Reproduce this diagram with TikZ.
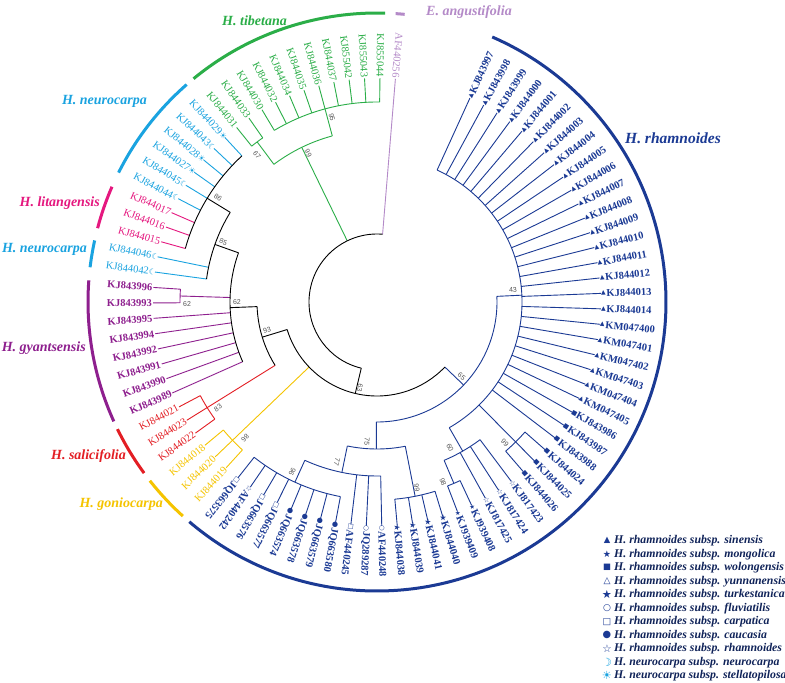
\documentclass[tikz,border=0pt]{standalone}
\usepackage{fontspec}
\setmainfont{Liberation Serif}
\setsansfont{Liberation Sans}
\newfontfamily\symfont{DejaVu Sans}
\usetikzlibrary{positioning}
\definecolor{cRham}{HTML}{1B3A94}
\definecolor{cTib}{HTML}{2BAE48}
\definecolor{cAng}{HTML}{B48AC8}
\definecolor{cNeu}{HTML}{1AA3E0}
\definecolor{cLit}{HTML}{E5187F}
\definecolor{cGya}{HTML}{8E1F8E}
\definecolor{cSal}{HTML}{E31E24}
\definecolor{cGon}{HTML}{F5C400}
\definecolor{cBoot}{HTML}{555555}
\newcommand{\leaffont}{\fontsize{10.5}{12}\selectfont}
% tip symbols
\newcommand{\mkTri}{\symfont\fontsize{6}{5}\selectfont ▲}
\newcommand{\mkStarS}{\symfont\fontsize{6.5}{5}\selectfont ★}
\newcommand{\mkSq}{\symfont\fontsize{6}{5}\selectfont ■}
\newcommand{\mkOTri}{\symfont\fontsize{6.5}{5}\selectfont △}
\newcommand{\mkStar}{\symfont\fontsize{8}{5}\selectfont ★}
\newcommand{\mkOCirc}{\symfont\fontsize{6.5}{5}\selectfont ○}
\newcommand{\mkOSq}{\symfont\fontsize{6.5}{5}\selectfont □}
\newcommand{\mkCirc}{\symfont\fontsize{7}{5}\selectfont ●}
\newcommand{\mkOStar}{\symfont\fontsize{7.5}{5}\selectfont ☆}
\newcommand{\mkMoon}{\symfont\fontsize{8}{5}\selectfont ☽}
\newcommand{\mkSun}{\symfont\fontsize{8}{5}\selectfont ☀}
\tikzset{
  treeline/.style={line width=0.9pt},
  grouparc/.style={line width=3pt},
  tipmark/.style={inner sep=0pt},
  bootlbl/.style={font=\sffamily\fontsize{7}{7}\selectfont,text=cBoot,inner sep=0pt},
  grouplbl/.style={font=\fontsize{14}{16}\selectfont\bfseries\itshape,inner sep=0pt},
  legtxt/.style={font=\fontsize{11.8}{12}\selectfont\bfseries\itshape,text=cRham!60!black,inner sep=0pt,anchor=west},
  olbl/.style={rotate=#1,anchor=west},
  ilbl/.style={rotate=#1+180,anchor=east},
  rham/.style={color=cRham}, rham-lbl/.style={olbl=#1,font=\leaffont\bfseries},
  gon/.style={color=cGon},   gon-lbl/.style={ilbl=#1,font=\leaffont},
  sal/.style={color=cSal},   sal-lbl/.style={ilbl=#1,font=\leaffont},
  gya/.style={color=cGya},   gya-lbl/.style={ilbl=#1,font=\leaffont\bfseries},
  neu/.style={color=cNeu},   neu-lbl/.style={ilbl=#1,font=\leaffont},
  lit/.style={color=cLit},   lit-lbl/.style={ilbl=#1,font=\leaffont},
  tib/.style={color=cTib},   tib-lbl/.style={ilbl=#1,font=\leaffont},
  ang/.style={color=cAng},   ang-lbl/.style={ilbl=#1,font=\leaffont},
  blk/.style={color=black}
}

\begin{document}
\begin{tikzpicture}[x=1pt,y=1pt]
  \path[fill=white] (-377,-381) rectangle (408,302);
  \useasboundingbox (-377,-381) rectangle (408,302);

  % leaves: index/label/group/symbol/node radius/label radius
  \foreach \i/\lab/\grp/\mk/\rn/\rl in {
      1/KJ843997/rham/\mkTri/145/229.5, 2/KJ843998/rham/\mkTri/145/229.5,
      3/KJ843999/rham/\mkTri/145/229.5, 4/KJ844000/rham/\mkTri/145/229.5,
      5/KJ844001/rham/\mkTri/145/229.5, 6/KJ844002/rham/\mkTri/145/229.5,
      7/KJ844003/rham/\mkTri/145/229.5, 8/KJ844004/rham/\mkTri/145/229.5,
      9/KJ844005/rham/\mkTri/145/229.5, 10/KJ844006/rham/\mkTri/145/229.5,
      11/KJ844007/rham/\mkTri/145/229.5, 12/KJ844008/rham/\mkTri/145/229.5,
      13/KJ844009/rham/\mkTri/145/229.5, 14/KJ844010/rham/\mkTri/145/229.5,
      15/KJ844011/rham/\mkTri/145/229.5, 16/KJ844012/rham/\mkTri/145/229.5,
      17/KJ844013/rham/\mkTri/145/229.5, 18/KJ844014/rham/\mkTri/145/229.5,
      19/KM047400/rham/\mkTri/145/229.5, 20/KM047401/rham/\mkTri/145/229.5,
      21/KM047402/rham/\mkTri/145/229.5, 22/KM047403/rham/\mkTri/145/229.5,
      23/KM047404/rham/\mkTri/145/229.5, 24/KM047405/rham/\mkTri/145/229.5,
      25/KJ843986/rham/\mkSq/145/229.5, 26/KJ843987/rham/\mkSq/145/229.5,
      27/KJ843988/rham/\mkSq/145/229.5, 28/KJ844024/rham/\mkSq/197/229.5,
      29/KJ844025/rham/\mkSq/197/229.5, 30/KJ844026/rham/\mkSq/197/229.5,
      31/KJ817423/rham/\mkOStar/172/229.5, 32/KJ817424/rham/\mkOStar/172/229.5,
      33/KJ817425/rham/\mkOStar/172/229.5, 34/KJ939408/rham/\mkStarS/197/229.5,
      35/KJ939409/rham/\mkStarS/197/229.5, 36/KJ844040/rham/\mkStar/198/229.5,
      37/KJ844041/rham/\mkStar/198/229.5, 38/KJ844039/rham/\mkStar/198/229.5,
      39/KJ844038/rham/\mkStar/198/229.5, 40/AF440248/rham/\mkOCirc/174/229.5,
      41/JQ289287/rham/\mkOCirc/174/229.5, 42/AF440245/rham/\mkOSq/174/229.5,
      43/JQ663580/rham/\mkCirc/198/229.5, 44/JQ663579/rham/\mkCirc/198/229.5,
      45/JQ663578/rham/\mkCirc/198/229.5, 46/JQ663574/rham/\mkCirc/198/229.5,
      47/JQ663577/rham/\mkOSq/198/229.5, 48/JQ663576/rham/\mkOSq/198/229.5,
      49/AF440242/rham/\mkOStar/198/229.5, 50/JQ663575/rham/\mkOSq/198/229.5,
      51/KJ844019/gon//200/225, 52/KJ844020/gon//200/225,
      53/KJ844018/gon//200/225, 54/KJ844022/sal//200/225,
      55/KJ844023/sal//200/225, 56/KJ844021/sal//200/225,
      57/KJ843989/gya//147/225, 58/KJ843990/gya//147/225,
      59/KJ843991/gya//147/225, 60/KJ843992/gya//147/225,
      61/KJ843994/gya//147/225, 62/KJ843995/gya//147/225,
      63/KJ843993/gya//197/225, 64/KJ843996/gya//197/225,
      65/KJ844042/neu/\mkMoon/172/230, 66/KJ844046/neu/\mkMoon/172/230,
      67/KJ844015/lit//199/225, 68/KJ844016/lit//199/225,
      69/KJ844017/lit//199/225, 70/KJ844044/neu/\mkMoon/199/230,
      71/KJ844045/neu/\mkMoon/199/230, 72/KJ844027/neu/\mkSun/199/230,
      73/KJ844028/neu/\mkSun/199/230, 74/KJ844043/neu/\mkMoon/199/230,
      75/KJ844029/neu/\mkSun/199/230, 76/KJ844031/tib//200/225,
      77/KJ844033/tib//200/225, 78/KJ844030/tib//200/225,
      79/KJ844032/tib//200/225, 80/KJ844034/tib//200/225,
      81/KJ844035/tib//200/225, 82/KJ844036/tib//200/225,
      83/KJ844037/tib//200/225, 84/KJ855042/tib//200/225,
      85/KJ855043/tib//200/225, 86/KJ855044/tib//200/225,
      87/AF440256/ang//68/225}{
    \pgfmathsetmacro\la{65.5-(\i-1)*3.956}
    \coordinate (t\i) at (\la:224);
    \draw[treeline,\grp] (\la:\rn) -- (t\i);
    \node[tipmark,\grp,rotate=\la] (m\i) at (\la:226.5) {\mk};
    \node[\grp,\grp-lbl=\la,inner sep=0pt] (l\i) at (\la:\rl) {\lab};
  }

  % internal nodes: name/arc from/arc to/radius/parent radius/group
  \foreach \nm/\a/\b/\r/\pr/\grp in {
      n99a/-49.224/-41.312/197/145/rham, n98/-69.004/-65.048/197/172/rham,
      n60/-67.026/-53.18/172/145/rham, n43/-60.103/65.5/145/120/rham,
      n99b/-84.828/-72.96/198/147/rham, n96/-128.344/-100.652/198/174/rham,
      n77/-114.498/-88.784/174/147/rham, n75/-101.641/-78.894/147/120/rham,
      n65/-90.268/2.699/120/94/rham, ngon/-140.212/-132.3/200/94/gon,
      nsal/-152.08/-144.168/200/120/sal, n62b/-183.728/-179.772/197/147/gya,
      n86/-227.244/-195.596/199/172/blk, n85/-211.42/-187.684/172/147/blk,
      n62/-199.552/-156.036/147/120/blk, n93/-177.794/-148.124/120/94/blk,
      n63/-162.959/-43.785/94/68/blk, n67/-235.156/-231.2/200/172/tib,
      n95/-270.76/-239.112/200/172/tib, n99g/-254.936/-233.178/172/68/tib}{
    \pgfmathsetmacro\mid{(\a+\b)/2}
    \coordinate (\nm) at (\mid:\r);
    \draw[treeline,\grp] (\a:\r) arc[start angle=\a,end angle=\b,radius=\r];
    \draw[treeline,\grp] (\mid:\pr) -- (\nm);
  }
  \coordinate (root) at (0,0);
  \draw[treeline] (-274.716:68) arc[start angle=-274.716,end angle=-103.372,radius=68];

  % bootstrap values
  \foreach \v/\a/\r/\f [count=\k] in {
      43/5.0/136.5/0, 65/318.6/113/0, 63/258.8/87.7/0, 62/180/140/1,
      62/180.6/190/1, 93/194.3/113.5/1, 85/158.7/165/1, 86/146.8/190/1,
      83/213.7/191/1, 86/225.9/189.5/0, 96/243.5/190/0, 77/256/165/0,
      75/265.9/140.4/0, 99/282.1/190/0, 98/290.1/191.7/0, 60/296.6/163/0,
      99/312.2/190.4/0, 99/114.8/164/1, 95/103.7/190/1, 67/129.2/189.8/1}{
    \node[bootlbl,rotate=\a+\f*180] (bs\k) at (\a:\r) {\v};
  }

  % clade bars
  \foreach \a/\b/\grp in {-130.5/66.5/rham, 88.4/129.4/tib, 84.5/86.3/ang,
      131.2/153.4/neu, 156.5/165.2/lit, 167.7/173.1/neu, 175.7/204.4/gya,
      206.1/216.3/sal, 218.2/227.8/gon}{
    \draw[grouparc,\grp] (\a:289) arc[start angle=\a,end angle=\b,radius=289];
  }

  % clade names
  \node[grouplbl,text=cRham,anchor=west,font=\fontsize{15.5}{17}\selectfont\bfseries\itshape] (gRham) at (248,164) {H. rhamnoides};
  \node[grouplbl,text=cTib,anchor=east] (gTib) at (-90,281) {H. tibetana};
  \node[grouplbl,text=cAng,anchor=west] (gAng) at (49,290) {E. angustifolia};
  \node[grouplbl,text=cNeu,anchor=east] (gNeuA) at (-230,201) {H. neurocarpa};
  \node[grouplbl,text=cLit,anchor=east] (gLit) at (-277,99) {H. litangensis};
  \node[grouplbl,text=cNeu,anchor=east] (gNeuB) at (-290,53) {H. neurocarpa};
  \node[grouplbl,text=cGya,anchor=east] (gGya) at (-291,-46) {H. gyantsensis};
  \node[grouplbl,text=cSal,anchor=east] (gSal) at (-251,-154) {H. salicifolia};
  \node[grouplbl,text=cGon,anchor=east] (gGon) at (-214,-202) {H. goniocarpa};

  % legend
  \foreach \mk/\col/\txt [count=\k] in {
      \mkTri/cRham/H. rhamnoides subsp. sinensis,
      \mkStarS/cRham/H. rhamnoides subsp. mongolica,
      \mkSq/cRham/H. rhamnoides subsp. wolongensis,
      \mkOTri/cRham/H. rhamnoides subsp. yunnanensis,
      \mkStar/cRham/H. rhamnoides subsp. turkestanica,
      \mkOCirc/cRham/H. rhamnoides subsp. fluviatilis,
      \mkOSq/cRham/H. rhamnoides subsp. carpatica,
      \mkCirc/cRham/H. rhamnoides subsp. caucasia,
      \mkOStar/cRham/H. rhamnoides subsp. rhamnoides,
      \mkMoon/cNeu/H. neurocarpa subsp. neurocarpa,
      \mkSun/cNeu/H. neurocarpa subsp. stellatopilosa}{
    \node[tipmark,text=\col,scale=1.4] (key\k) at (230,-238.7-13.5*\k+13.5) {\mk};
    \node[legtxt] (keytxt\k) at (237,-238.7-13.5*\k+13.5) {\txt};
  }
\end{tikzpicture}
\end{document}
